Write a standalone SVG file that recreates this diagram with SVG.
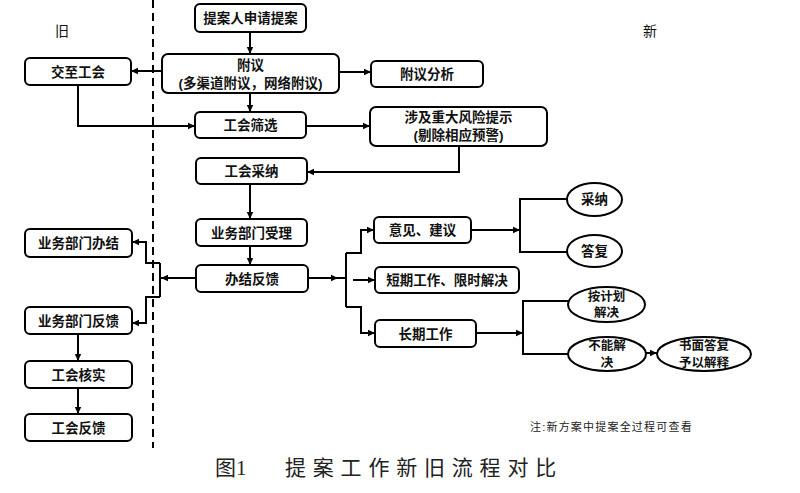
<svg xmlns="http://www.w3.org/2000/svg" width="800" height="493" viewBox="0 0 800 493">
<defs>
<marker id="ah" markerWidth="8" markerHeight="8" refX="7" refY="4" orient="auto" markerUnits="userSpaceOnUse">
<path d="M0,0.8 L7,4 L0,7.2 Z" fill="#000"/>
</marker>
<style>
.box{fill:#fff;stroke:#000;stroke-width:2}
.t{font-family:"Liberation Sans","Noto Sans CJK SC",sans-serif;font-size:13.5px;font-weight:bold;text-anchor:middle;fill:#111}
.ts{font-family:"Liberation Sans","Noto Sans CJK SC",sans-serif;font-size:12.5px;font-weight:bold;text-anchor:middle;fill:#111}
.c{fill:none;stroke:#000;stroke-width:2}
.a{marker-end:url(#ah)}
.lbl{font-family:"Liberation Sans","Noto Sans CJK SC",sans-serif;font-size:14px;fill:#111}
</style>
</defs>
<rect width="800" height="493" fill="#fff"/>
<line x1="153" y1="0" x2="153" y2="448" stroke="#000" stroke-width="2" stroke-dasharray="8,5"/>
<text class="lbl" x="55" y="36">旧</text>
<text class="lbl" x="643" y="36">新</text>

<g id="connectors">
<path class="c a" d="M250,32 V54"/>
<path class="c a" d="M162,71 H131"/>
<path class="c a" d="M339,72 H371"/>
<path class="c a" d="M250,93 V112"/>
<path class="c a" d="M78,85 V126 H195"/>
<path class="c a" d="M306,126 H370"/>
<path class="c a" d="M459,146 V172 H307"/>
<path class="c a" d="M250,184 V219"/>
<path class="c a" d="M250,246 V265"/>
<path class="c a" d="M196,278 H161"/>
<path class="c" d="M160,263 V297"/>
<path class="c a" d="M160,263 H146 V242 H132"/>
<path class="c a" d="M160,297 H146 V323 H132"/>
<path class="c a" d="M78,334 V361"/>
<path class="c a" d="M78,388 V414"/>
<path class="c a" d="M308,278 H338"/>
<path class="c" d="M336,278 H346"/>
<path class="c" d="M346,253 V307"/>
<path class="c a" d="M346,253 H361 V230 H374"/>
<path class="c a" d="M346,307 H361 V333 H375"/>
<path class="c a" d="M353,280 H375"/>
<path class="c a" d="M471,230 H520"/>
<path class="c" d="M567,199 H520 V252 H567"/>
<path class="c a" d="M476,333 H523"/>
<path class="c" d="M568,301 H523 V354 H568"/>
<path class="c a" d="M646,353 H657"/>
</g>

<g id="n1"><rect class="box" x="195" y="4" width="111" height="28" rx="5"/><text class="t" x="250.5" y="23">提案人申请提案</text></g>
<g id="n2"><rect class="box" x="162" y="54" width="177" height="39" rx="6"/><text class="t" x="250.5" y="70">附议</text><text class="t" x="250.5" y="88">(多渠道附议，网络附议)</text></g>
<g id="n3"><rect class="box" x="25" y="58" width="106" height="27" rx="5"/><text class="t" x="78" y="76.5">交至工会</text></g>
<g id="n4"><rect class="box" x="371" y="61" width="112" height="26" rx="5"/><text class="t" x="427" y="78.5">附议分析</text></g>
<g id="n5"><rect class="box" x="195" y="112" width="111" height="26" rx="5"/><text class="t" x="250.5" y="130">工会筛选</text></g>
<g id="n6"><rect class="box" x="370" y="107" width="177" height="39" rx="6"/><text class="t" x="458.5" y="122">涉及重大风险提示</text><text class="t" x="458.5" y="140">(剔除相应预警)</text></g>
<g id="n7"><rect class="box" x="196" y="158" width="111" height="26" rx="5"/><text class="t" x="251.5" y="176">工会采纳</text></g>
<g id="n8"><rect class="box" x="196" y="219" width="111" height="27" rx="5"/><text class="t" x="251.5" y="237.5">业务部门受理</text></g>
<g id="n9"><rect class="box" x="196" y="265" width="112" height="27" rx="5"/><text class="t" x="252" y="283.5">办结反馈</text></g>
<g id="n10"><rect class="box" x="25" y="229" width="107" height="28" rx="5"/><text class="t" x="78.5" y="248">业务部门办结</text></g>
<g id="n11"><rect class="box" x="25" y="307" width="107" height="27" rx="5"/><text class="t" x="78.5" y="325.5">业务部门反馈</text></g>
<g id="n12"><rect class="box" x="25" y="361" width="107" height="27" rx="5"/><text class="t" x="78.5" y="379.5">工会核实</text></g>
<g id="n13"><rect class="box" x="25" y="414" width="107" height="27" rx="5"/><text class="t" x="78.5" y="432.5">工会反馈</text></g>
<g id="n14"><rect class="box" x="374" y="217" width="97" height="26" rx="5"/><text class="t" x="422.5" y="235">意见、建议</text></g>
<g id="n15"><rect class="box" x="375" y="267" width="144" height="26" rx="5"/><text class="t" x="447" y="285">短期工作、限时解决</text></g>
<g id="n16"><rect class="box" x="375" y="320" width="101" height="27" rx="5"/><text class="t" x="425.5" y="338.5">长期工作</text></g>
<g id="n17"><ellipse class="box" cx="594.5" cy="199.5" rx="27.5" ry="16.5"/><text class="t" x="594.5" y="204">采纳</text></g>
<g id="n18"><ellipse class="box" cx="594.5" cy="251" rx="27.5" ry="16"/><text class="t" x="594.5" y="256">答复</text></g>
<g id="n19"><ellipse class="box" cx="606.5" cy="304.5" rx="38.5" ry="17.5"/><text class="ts" x="606.5" y="301">按计划</text><text class="ts" x="606.5" y="317">解决</text></g>
<g id="n20"><ellipse class="box" cx="607" cy="354" rx="39" ry="17"/><text class="ts" x="607" y="350">不能解</text><text class="ts" x="607" y="367">决</text></g>
<g id="n21"><ellipse class="box" cx="704" cy="354" rx="47" ry="17"/><text class="ts" x="704" y="350">书面答复</text><text class="ts" x="704" y="367">予以解释</text></g>

<text x="530" y="431" font-family="'Liberation Sans','Noto Sans CJK SC',sans-serif" font-size="11px" fill="#222" letter-spacing="1.2">注:新方案中提案全过程可查看</text>
<text x="215" y="475" font-family="'Liberation Serif','Noto Sans CJK SC',serif" font-size="21px" fill="#222">图1</text>
<text x="285" y="475" font-family="'Liberation Serif','Noto Sans CJK SC',serif" font-size="21px" fill="#222" letter-spacing="6.8">提案工作新旧流程对比</text>
</svg>
